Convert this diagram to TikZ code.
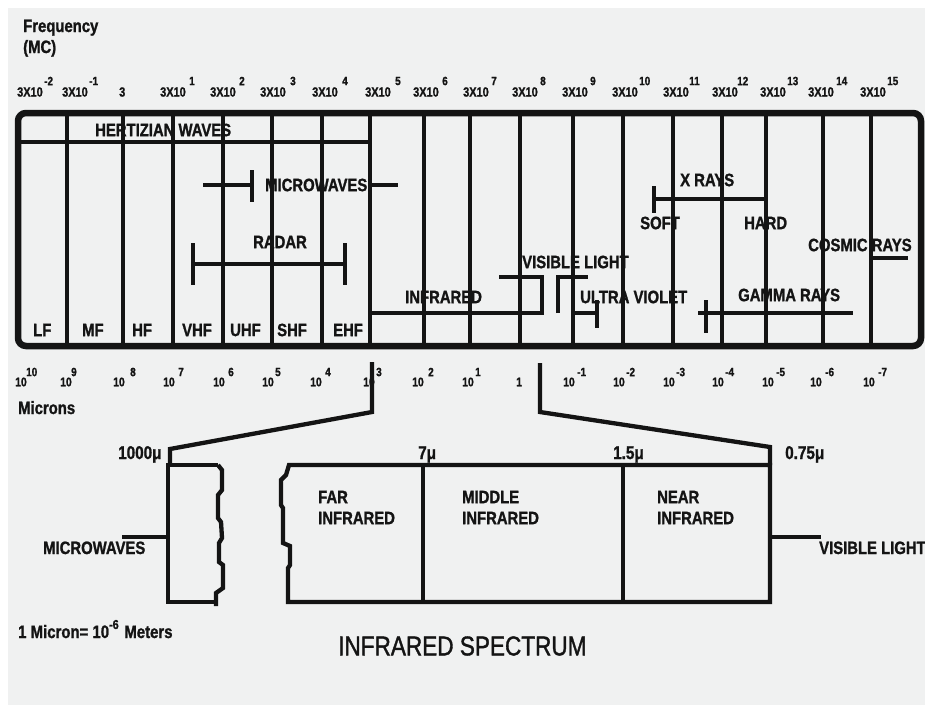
\documentclass[tikz,border=0pt]{standalone}
\usepackage{fontspec}
\setmainfont{Liberation Sans}[FakeStretch=0.83,BoldFeatures={FakeBold=1.2}]
\newfontfamily\titlefont{Liberation Sans}[FakeStretch=0.83,FakeBold=1.3]
\definecolor{bgc}{RGB}{240,241,241}
\definecolor{ink}{RGB}{20,20,20}
\begin{document}
\begin{tikzpicture}[x=1pt,y=-1pt,
  ln/.style={line width=4.3pt,ink},
  bord/.style={line width=6.5pt,ink,rounded corners=8pt},
  lbl/.style={inner sep=0pt,anchor=west,text=ink,font=\fontsize{17.9}{17.9}\selectfont\bfseries},
  lblr/.style={inner sep=0pt,anchor=west,text=ink,font=\fontsize{17.9}{17.9}\selectfont\bfseries},
  fq/.style={inner sep=0pt,anchor=west,text=ink,font=\fontsize{13.2}{13.2}\selectfont\bfseries},
  fqx/.style={inner sep=0pt,anchor=west,text=ink,font=\fontsize{12}{12}\selectfont\bfseries},
  mc/.style={inner sep=0pt,anchor=west,text=ink,font=\fontsize{12.5}{12.5}\selectfont\bfseries},
  mcx/.style={inner sep=0pt,anchor=west,text=ink,font=\fontsize{12}{12}\selectfont\bfseries},
  bl/.style={inner sep=0pt,anchor=base west,text=ink,font=\fontsize{17.9}{17.9}\selectfont\bfseries}
]
\useasboundingbox (0,0) rectangle (925,705);
\fill[white] (0,0) rectangle (925,705);
\fill[bgc] (8,8) rectangle (925,705);

% header
\node[bl] (freq) at (23,32) {Frequency};
\node[bl] (mcunit) at (23,53) {(MC)};

% frequency scale
\foreach \i/\x in {1/17,2/62,4/160,5/210,6/260,7/312,8/365,9/413,10/463,11/512,12/562,13/612,14/663,15/712,16/760,17/808,18/860}
  \node[fq] (f\i) at (\x,92) {3X10};
\node[fq] (f3) at (119,92) {3};
\foreach \i/\x/\e in {1/44/-2,2/89/-1,4/189/1,5/239/2,6/290/3,7/342/4,8/395/5,9/442/6,10/491/7,11/540/8,12/590/9,13/639/10,14/689/11,15/737/12,16/787/13,17/836/14,18/887/15}
  \node[fqx] (fe\i) at (\x,81) {\e};

% microns scale
\foreach \i/\x in {1/15,2/60,3/113,4/163,5/213,6/262,7/310,8/363,9/412,10/462,12/563,13/613,14/663,15/712,16/762,17/810,18/863}
  \node[mc] (m\i) at (\x,382) {10};
\node[mc] (m11) at (516,382) {1};
\foreach \i/\x/\e in {1/26/10,2/71/9,3/130/8,4/178/7,5/228/6,6/275/5,7/325/4,8/376/3,9/428/2,10/475/1,12/577/-1,13/626/-2,14/676/-3,15/725/-4,16/776/-5,17/825/-6,18/878/-7}
  \node[mcx] (me\i) at (\x,372) {\e};
\node[bl] (microns) at (18,414) {Microns};

% labels in the main box (under the lines)
\node[lbl] (hertz) at (95,130) {HERTIZIAN WAVES};
\node[lbl] (mw) at (265,185) {MICROWAVES};
\node[lbl] (radar) at (253,242) {RADAR};
\node[lbl] (lf) at (33,330) {LF};
\node[lbl] (mf) at (82,330) {MF};
\node[lbl] (hf) at (132,330) {HF};
\node[lbl] (vhf) at (182,330) {VHF};
\node[lbl] (uhf) at (230,330) {UHF};
\node[lbl] (shf) at (277,330) {SHF};
\node[lbl] (ehf) at (333,330) {EHF};
\node[lbl] (ir) at (405,297) {INFRARED};
\node[lbl] (vis) at (522,262) {VISIBLE LIGHT};
\node[lbl] (uv) at (580,297) {ULTRA VIOLET};
\node[lbl] (xr) at (680,180) {X RAYS};
\node[lbl] (soft) at (640,223) {SOFT};
\node[lbl] (hard) at (744,223) {HARD};
\node[lbl] (cosmic) at (808,245) {COSMIC RAYS};
\node[lbl] (gamma) at (738,295) {GAMMA RAYS};

% vertical band lines
\foreach \x in {67,123,173,223,272,322,370,424,470,520,573,623,673,722,766,823,871}
  \draw[ln] (\x,112) -- (\x,347);
\draw[ln] (17,142) -- (370,142);

% range bars
\coordinate (mwa) at (203,185); \coordinate (mwb) at (252,185);
\draw[ln] (mwa) -- (mwb);
\draw[ln] (252,170) -- (252,202);
\draw[ln] (370,185) -- (398,185);
\draw[ln] (193,243) -- (193,285);
\draw[ln] (193,264) -- (345,264);
\draw[ln] (345,243) -- (345,285);
\draw[ln] (370,313) -- (542,313) -- (542,277) -- (499,277);
\draw[ln] (558,313) -- (558,277) -- (588,277);
\draw[ln] (575,313) -- (597,313);
\draw[ln] (597,300) -- (597,328);
\draw[ln] (654,186) -- (654,213);
\draw[ln] (654,199) -- (768,199);
\draw[ln] (871,258) -- (908,258);
\draw[ln] (698,313) -- (853,313);
\draw[ln] (706,300) -- (706,333);

% main border
\draw[bord] (18,113) rectangle (921,346);

% zoom connectors
\coordinate (c1) at (372,362); \coordinate (c2) at (372,412);
\coordinate (c3) at (170,449); \coordinate (c4) at (170,465);
\draw[ln] (c1) -- (c2) -- (c3) -- (c4);
\coordinate (d1) at (540,363); \coordinate (d2) at (540,412);
\coordinate (d3) at (770,447); \coordinate (d4) at (770,465);
\draw[ln] (d1) -- (d2) -- (d3) -- (d4);

% infrared spectrum box
\draw[ln] (218,465) -- (168,465) -- (168,602) -- (216,602);
\draw[ln] (218,465) -- (222,470) -- (222,490) -- (218,495) -- (218,518) -- (221,522) -- (222,538) -- (219,543) -- (219,562) -- (223,565) -- (223,588) -- (216,593) -- (216,606);
\draw[ln] (770,465) -- (289,465) -- (286,475) -- (281,480) -- (281,505) -- (283,508) -- (283,543) -- (290,546) -- (290,565) -- (288,568) -- (288,602) -- (770,602) -- cycle;
\draw[ln] (423,465) -- (423,602);
\draw[ln] (623,465) -- (623,602);
\draw[ln] (122,537) -- (168,537);
\draw[ln] (770,537) -- (821,537);

\node[bl] (mw2) at (43,554) {MICROWAVES};
\node[bl] (vis2) at (819,554) {VISIBLE LIGHT};
\node[lblr] (far1) at (318,497) {FAR};
\node[lblr] (far2) at (318,518) {INFRARED};
\node[lblr] (mid1) at (462,497) {MIDDLE};
\node[lblr] (mid2) at (462,518) {INFRARED};
\node[lblr] (near1) at (657,497) {NEAR};
\node[lblr] (near2) at (657,518) {INFRARED};

\node[bl,font=\fontsize{18.4}{18.4}\selectfont\bfseries] (u1) at (118,459) {1000μ};
\node[bl,font=\fontsize{18.4}{18.4}\selectfont\bfseries] (u2) at (418,459) {7μ};
\node[bl,font=\fontsize{18.4}{18.4}\selectfont\bfseries] (u3) at (613,459) {1.5μ};
\node[bl,font=\fontsize{18.4}{18.4}\selectfont\bfseries] (u4) at (785,459) {0.75μ};

\node[bl,font=\fontsize{18}{18}\selectfont\bfseries] (note) at (18,638) {1 Micron= 10\raisebox{9pt}{\fontsize{13}{13}\selectfont -6}\kern1.5pt\ Meters};
\node[inner sep=0pt,anchor=west,text=ink,font=\titlefont\fontsize{27.2}{27.2}\selectfont] (title) at (338,646) {INFRARED SPECTRUM};
\end{tikzpicture}
\end{document}
